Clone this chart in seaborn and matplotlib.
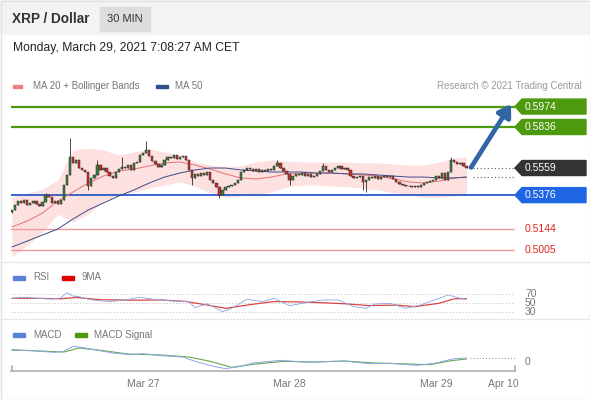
import numpy as np
import pandas as pd
import seaborn as sns
import matplotlib
matplotlib.use("Agg")
import matplotlib.pyplot as plt
from matplotlib.patches import Rectangle, Polygon

# ---- data (XRP/USD, 30 min candles) ----
start_time = "2021-03-26 02:30"
first_open = 0.5262
closes = [
    0.5276, 0.5309, 0.5336, 0.5323, 0.5343, 0.5309, 0.5323, 0.5336, 0.5316, 0.5302,
    0.5329, 0.5377, 0.5363, 0.5323, 0.5336, 0.5316, 0.5343, 0.5444, 0.5512, 0.5633,
    0.5593, 0.5613, 0.5559, 0.5546, 0.5532, 0.5438, 0.5492, 0.5512, 0.5579, 0.5546,
    0.5559, 0.5532, 0.5505, 0.5492, 0.5532, 0.5552, 0.5566, 0.5559, 0.5579, 0.5546,
    0.5593, 0.5600, 0.5647, 0.5660, 0.5681, 0.5640, 0.5606, 0.5586, 0.5566, 0.5579,
    0.5613, 0.5633, 0.5627, 0.5647, 0.5620, 0.5633, 0.5640, 0.5613, 0.5546, 0.5492,
    0.5519, 0.5505, 0.5525, 0.5512, 0.5532, 0.5478, 0.5458, 0.5431, 0.5377, 0.5411,
    0.5431, 0.5438, 0.5444, 0.5458, 0.5478, 0.5532, 0.5546, 0.5559, 0.5552, 0.5539,
    0.5552, 0.5532, 0.5546, 0.5539, 0.5552, 0.5546, 0.5573, 0.5593, 0.5559, 0.5539,
    0.5519, 0.5478, 0.5505, 0.5519, 0.5512, 0.5525, 0.5505, 0.5519, 0.5498, 0.5505,
    0.5519, 0.5539, 0.5573, 0.5546, 0.5532, 0.5546, 0.5559, 0.5573, 0.5552, 0.5559,
    0.5546, 0.5505, 0.5492, 0.5498, 0.5505, 0.5465, 0.5478, 0.5498, 0.5492, 0.5505,
    0.5485, 0.5498, 0.5505, 0.5498, 0.5505, 0.5485, 0.5465, 0.5451, 0.5444, 0.5438,
    0.5438, 0.5431, 0.5438, 0.5431, 0.5444, 0.5458, 0.5465, 0.5471, 0.5478, 0.5505,
    0.5492, 0.5525, 0.5478, 0.5532, 0.5613, 0.5600, 0.5586, 0.5593, 0.5573, 0.5559,
]
# only the visible long wicks
wick_highs = {11: 0.5390, 19: 0.5761, 28: 0.5613, 36: 0.5633, 44: 0.5741,
              87: 0.5613, 102: 0.5593, 144: 0.5633}
wick_lows = {0: 0.5255, 25: 0.5411, 59: 0.5444, 68: 0.5357, 91: 0.5444,
             115: 0.5411, 116: 0.5397}

# indicators sampled every few candles
ind_idx = [0, 5, 10, 15, 20, 25, 30, 35, 40, 45, 50, 55, 60, 65, 70, 75, 80, 85,
           90, 95, 100, 105, 110, 115, 120, 125, 130, 135, 140, 145, 149]
ma20 = [0.5161, 0.5201, 0.5255, 0.5336, 0.5397, 0.5458, 0.5505, 0.5539, 0.5552, 0.5573,
        0.5593, 0.5600, 0.5579, 0.5552, 0.5519, 0.5492, 0.5485, 0.5498, 0.5519, 0.5525,
        0.5525, 0.5525, 0.5519, 0.5512, 0.5505, 0.5485, 0.5465, 0.5458, 0.5471, 0.5492, 0.5498]
ma50 = [0.5026, 0.5066, 0.5107, 0.5147, 0.5215, 0.5276, 0.5323, 0.5370, 0.5411, 0.5458,
        0.5498, 0.5525, 0.5546, 0.5559, 0.5559, 0.5546, 0.5539, 0.5532, 0.5532, 0.5532,
        0.5525, 0.5525, 0.5519, 0.5519, 0.5512, 0.5505, 0.5498, 0.5498, 0.5492, 0.5492, 0.5498]
bb_upper = [0.5363, 0.5390, 0.5417, 0.5478, 0.5681, 0.5694, 0.5681, 0.5647, 0.5667, 0.5687,
            0.5667, 0.5647, 0.5600, 0.5579, 0.5566, 0.5573, 0.5600, 0.5613, 0.5606, 0.5600,
            0.5600, 0.5600, 0.5600, 0.5593, 0.5593, 0.5586, 0.5579, 0.5579, 0.5600, 0.5627, 0.5633]
bb_lower = [0.4958, 0.5039, 0.5127, 0.5248, 0.5194, 0.5248, 0.5336, 0.5377, 0.5397, 0.5424,
            0.5444, 0.5465, 0.5438, 0.5390, 0.5363, 0.5370, 0.5377, 0.5397, 0.5431, 0.5444,
            0.5444, 0.5438, 0.5431, 0.5424, 0.5411, 0.5390, 0.5377, 0.5363, 0.5363, 0.5370, 0.5377]

rsi_idx = [0, 4, 8, 13, 16, 18, 20, 22, 26, 32, 37, 42, 48, 53, 58, 60, 64, 69, 72, 77,
           82, 86, 91, 97, 102, 107, 112, 116, 119, 124, 129, 134, 139, 143, 147, 149]
rsi = [61.1, 63.3, 61.1, 59.6, 62.0, 73.7, 66.0, 64.8, 57.4, 53.7, 57.4, 63.3, 57.4, 55.2,
       53.7, 40.4, 49.0, 31.5, 38.9, 58.9, 53.7, 61.1, 44.8, 52.2, 57.4, 57.4, 42.6, 38.9,
       48.5, 50.0, 38.9, 46.3, 58.9, 68.5, 61.1, 58.9]
rsi_ma_idx = [0, 9, 16, 21, 29, 39, 49, 57, 65, 70, 78, 86, 94, 103, 109, 117, 126, 132,
              140, 145, 149]
rsi_ma = [61.1, 61.0, 60.0, 63.0, 58.0, 57.0, 57.4, 54.0, 45.0, 38.9, 47.0, 54.0, 53.0,
          51.0, 49.0, 45.0, 46.0, 42.6, 50.0, 60.0, 60.4]

macd_idx = [0, 6, 14, 17, 20, 24, 27, 33, 39, 43, 49, 56, 60, 66, 70, 75, 79, 88, 97,
            109, 117, 124, 133, 139, 145, 149]
macd = [0.0035, 0.0034, 0.0029, 0.0032, 0.0047, 0.0042, 0.0037, 0.0027, 0.0022, 0.0025,
        0.0019, 0.0015, 0.0002, -0.0013, -0.0020, -0.0013, -0.0003, 0.0005, -0.0001,
        0.0003, -0.0005, -0.0004, -0.0010, -0.0003, 0.0010, 0.0012]
signal_idx = [0, 9, 17, 22, 29, 38, 49, 58, 65, 72, 80, 89, 99, 109, 119, 130, 137, 144, 149]
signal = [0.0037, 0.0033, 0.0030, 0.0042, 0.0035, 0.0024, 0.0021, 0.0015, 0.0002, -0.0016,
          -0.0006, 0.0002, 0.0000, 0.0003, -0.0003, -0.0006, -0.0008, 0.0004, 0.0009]

resistances = [0.5974, 0.5836]
pivot = 0.5376
supports = [0.5144, 0.5005]
tick_times = ["2021-03-27 00:00", "2021-03-28 00:00", "2021-03-29 00:00", "2021-03-29 11:00"]
tick_labels = ["Mar 27", "Mar 28", "Mar 29", "Apr 10"]

# ---- style ----
sns.set_style("white")
plt.rcParams["font.family"] = ["Liberation Sans", "DejaVu Sans"]

W, H = 590, 400
fig = plt.figure(figsize=(W / 100, H / 100), dpi=100)


def px_rect(x0, y0, x1, y1):
    return [x0 / W, 1 - y1 / H, (x1 - x0) / W, (y1 - y0) / H]


n = len(closes)
idx = np.arange(n)
opens = [first_open] + closes[:-1]
x_lim = (-0.33, 164.9)
t0 = pd.Timestamp(start_time)
tick_pos = [(pd.Timestamp(t) - t0) / pd.Timedelta("30min") for t in tick_times]

# ---- main price panel ----
ax = fig.add_axes(px_rect(11, 95, 515, 260))
ax.set_xlim(*x_lim)
ax.set_ylim(0.4938, 0.6052)
ax.axis("off")

ax.fill_between(ind_idx, bb_lower, bb_upper, color="#fde0e0", lw=0, zorder=1)
sns.lineplot(x=ind_idx, y=ma20, ax=ax, color="#e57373", lw=0.7, zorder=3)
sns.lineplot(x=ind_idx, y=ma50, ax=ax, color="#3d4c8c", lw=0.7, zorder=3)

for lvl in resistances:
    ax.axhline(lvl, color="#4e9a0f", lw=1.6, zorder=2)
ax.axhline(pivot, color="#2a59c9", lw=1.3, zorder=2)
for lvl in supports:
    ax.axhline(lvl, color="#f19a9a", lw=1.0, zorder=2)

highs = [max(o, c, wick_highs.get(i, 0)) for i, (o, c) in enumerate(zip(opens, closes))]
lows = [min(o, c, wick_lows.get(i, 1)) for i, (o, c) in enumerate(zip(opens, closes))]
ax.vlines(idx, lows, highs, color="#2b2b2b", lw=0.6, zorder=4)
bottoms = np.minimum(opens, closes)
heights = np.maximum(np.abs(np.subtract(closes, opens)), 0.00025)
colors = ["#3a7f3a" if c >= o else "#c83030" for o, c in zip(opens, closes)]
ax.bar(idx, heights, bottom=bottoms, width=0.75, color=colors,
       edgecolor="#2b2b2b", linewidth=0.35, zorder=5)

ax.hlines([closes[-1], ma50[-1]], n + 1, x_lim[1], colors="#555555",
          linestyles=(0, (1, 2.2)), lw=0.8, zorder=3)
ax.annotate("", xy=(163.6, 0.5990), xytext=(n + 0.5, closes[-1] + 0.0004),
            arrowprops=dict(arrowstyle="-|>,head_length=0.7,head_width=0.45",
                            color="#2f66a3", lw=3.4, shrinkA=0, shrinkB=0), zorder=6)

# ---- RSI panel ----
rax = fig.add_axes(px_rect(11, 287, 515, 317))
rax.set_xlim(*x_lim)
rax.set_ylim(19.6, 86.2)
rax.axis("off")
for lvl in [70, 50, 30]:
    rax.axhline(lvl, color="#bdbdbd", lw=0.7, ls=(0, (1, 2.2)))
sns.lineplot(x=rsi_ma_idx, y=rsi_ma, ax=rax, color="#d84545", lw=0.9)
sns.lineplot(x=rsi_idx, y=rsi, ax=rax, color="#8aa6e6", lw=0.6)

# ---- MACD panel ----
max_ = fig.add_axes(px_rect(11, 343, 515, 371))
max_.set_xlim(*x_lim)
max_.set_ylim(-0.0027, 0.0057)
sns.lineplot(x=signal_idx, y=signal, ax=max_, color="#6aa84f", lw=0.8)
sns.lineplot(x=macd_idx, y=macd, ax=max_, color="#8aa6e6", lw=0.7)
max_.hlines(macd[-1], n, x_lim[1], colors="#888888", linestyles=(0, (1, 2.2)), lw=0.7)
for s in ["top", "left", "right"]:
    max_.spines[s].set_visible(False)
max_.spines["bottom"].set_color("#b5b5b5")
max_.spines["bottom"].set_linewidth(1.3)
max_.set_yticks([])
max_.set_xticks(tick_pos)
max_.set_xticklabels(tick_labels, color="#777777", fontsize=7.5)
max_.tick_params(axis="x", length=0, pad=6)
max_.patch.set_alpha(0)

# ---- overlay: header, legends, labels ----
ov = fig.add_axes([0, 0, 1, 1], zorder=10)
ov.set_xlim(0, W)
ov.set_ylim(H, 0)
ov.axis("off")
ov.patch.set_alpha(0)


def to_px(a, y):
    d = a.transData.transform((0, y))
    return ov.transData.inverted().transform(d)[1]


ov.add_patch(Rectangle((0, 0), W, 34, color="#f3f3f3", zorder=0))
ov.text(12, 19, "XRP / Dollar", fontsize=9.8, fontweight="bold", color="#333333", va="center")
ov.add_patch(Rectangle((100, 7), 50, 24, color="#dddddd", zorder=1))
ov.text(125, 19, "30 MIN", fontsize=8, color="#333333", ha="center", va="center")
ov.text(13, 48, "Monday, March 29, 2021 7:08:27 AM CET", fontsize=8.7, color="#222222", va="center")

ov.add_patch(Rectangle((13, 84.5), 9, 3.5, color="#f08080"))
ov.text(33, 86, "MA 20 + Bollinger Bands", fontsize=7, color="#777777", va="center")
ov.add_patch(Rectangle((156, 84.5), 12, 3.5, color="#2f4f8f"))
ov.text(175, 86, "MA 50", fontsize=7, color="#777777", va="center")
ov.text(582, 86, "Research \u00a9 2021 Trading Central", fontsize=7, color="#9a9a9a",
        ha="right", va="center")

boxes = [(resistances[0], "#4e9a0f"), (resistances[1], "#4e9a0f"),
         (closes[-1], "#333333"), (pivot, "#1f66e5")]
for val, col in boxes:
    py = to_px(ax, val)
    ov.add_patch(Polygon([(515, py), (522, py - 7.5), (586, py - 7.5), (586, py + 7.5),
                          (522, py + 7.5)], closed=True, color=col))
    ov.text(525, py, f"{val:.4f}", fontsize=7.5, color="white", va="center")
for val in supports:
    ov.text(525, to_px(ax, val), f"{val:.4f}", fontsize=7.5, color="#e0251b", va="center")

ov.add_patch(Rectangle((13, 276), 12, 3.5, color="#5b82d8"))
ov.text(33, 277.5, "RSI", fontsize=7, color="#777777", va="center")
ov.add_patch(Rectangle((62, 276), 12, 3.5, color="#e00000"))
ov.text(81, 277.5, "9MA", fontsize=7, color="#777777", va="center")
for lvl in [70, 50, 30]:
    ov.text(525, to_px(rax, lvl), str(lvl), fontsize=7.5, color="#777777", va="center")

ov.add_patch(Rectangle((13, 333), 12, 3.5, color="#5b82d8"))
ov.text(33, 334.5, "MACD", fontsize=7, color="#777777", va="center")
ov.add_patch(Rectangle((75, 333), 12, 3.5, color="#4e9a0f"))
ov.text(94, 334.5, "MACD Signal", fontsize=7, color="#777777", va="center")
ov.text(525, to_px(max_, 0), "0", fontsize=7.5, color="#777777", va="center")

ov.plot([11.5, 11.5], [366, 371], color="#b5b5b5", lw=1.3)
ov.plot([514.5, 514.5], [366, 371], color="#b5b5b5", lw=1.3)
ov.hlines([262, 319], 0, W, colors="#e8e8e8", lw=1)
ov.add_patch(Rectangle((0.5, 0.5), W - 1, H - 1, fill=False, ec="#e2e2e2", lw=1))

fig.savefig("out.png", dpi=100)
